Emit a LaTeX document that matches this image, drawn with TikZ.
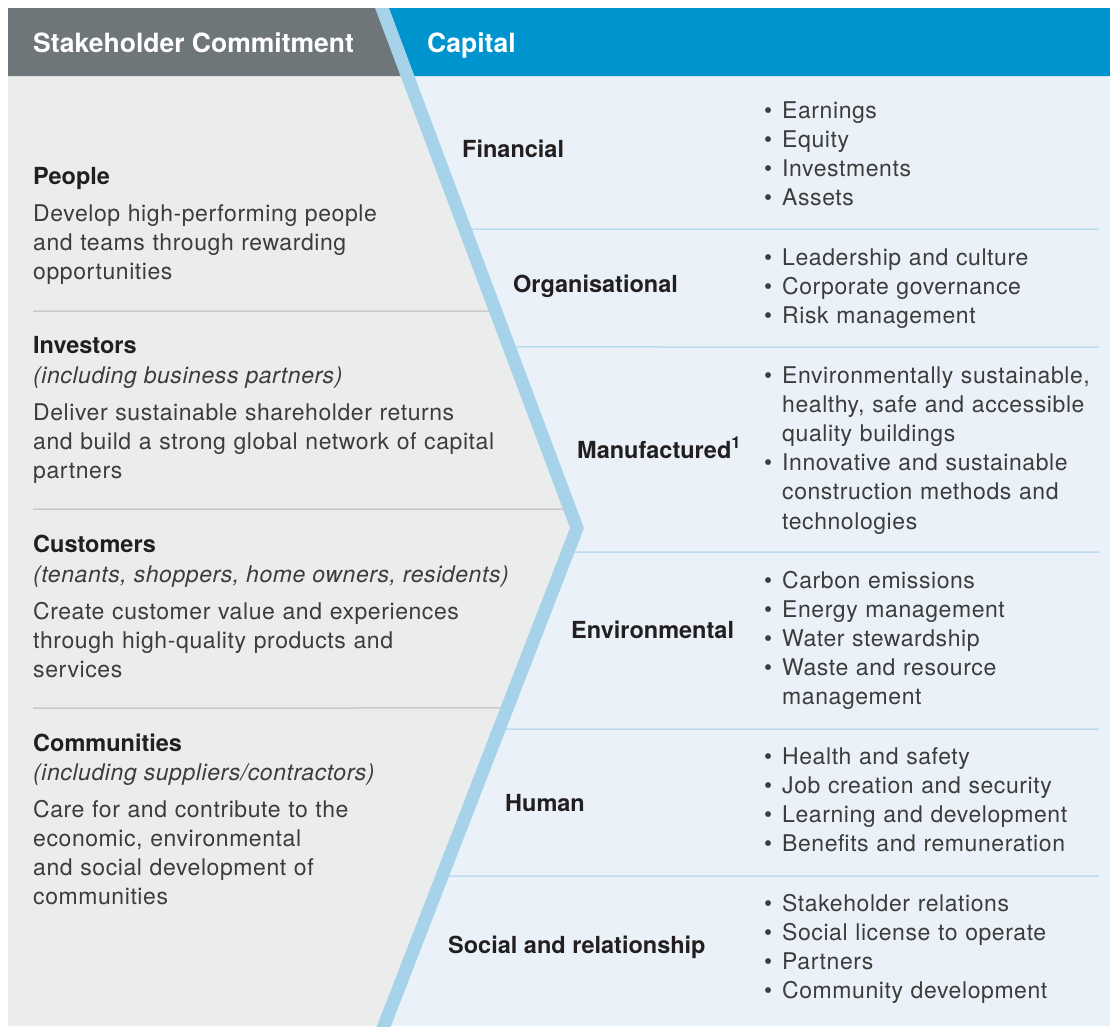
\documentclass[tikz,border=0pt]{standalone}
\usepackage{fontspec}
\setmainfont{TeX Gyre Heros}
\newfontfamily\lightfont{TeX Gyre Heros}[LetterSpace=2.5]
\usepackage{tikz}
\usetikzlibrary{positioning,calc}
\definecolor{hdrgray}{HTML}{6E7679}
\definecolor{hdrblue}{HTML}{0094CE}
\definecolor{stripeblue}{HTML}{A6D2EA}
\definecolor{leftbg}{HTML}{EBECEC}
\definecolor{rightbg}{HTML}{EAF1F8}
\definecolor{sepgray}{HTML}{C9CACA}
\definecolor{sepblue}{HTML}{BEDCEF}
\definecolor{ink}{HTML}{231F20}
\definecolor{softink}{HTML}{3C3C3C}
\newcommand{\bitem}{\makebox[18pt][l]{\textbullet}}
\newcommand{\bcont}{\hspace*{18pt}}

\begin{document}
\begin{tikzpicture}[
    x=1pt, y=-1pt,
    head/.style={font=\bfseries\fontsize{26.5}{30}\selectfont, text=white, anchor=base west, inner sep=0},
    title/.style={font=\bfseries\fontsize{23.5}{29}\selectfont, text=ink, anchor=base west, inner sep=0},
    sub/.style={font=\lightfont\itshape\fontsize{23}{29}\selectfont, text=softink, anchor=base west, inner sep=0},
    body/.style={font=\lightfont\fontsize{23}{29}\selectfont, text=softink, anchor=base west,
                 inner sep=0, text width=500pt, align=left},
    items/.style={body, text width=330pt, font=\lightfont\fontsize{23}{29.2}\selectfont},
    sepL/.style={draw=sepgray, line width=1.5pt},
    sepR/.style={draw=sepblue, line width=1.5pt},
    stripe/.style={draw=stripeblue, line width=13pt, line join=miter}]

    \useasboundingbox (0,0) rectangle (1110,1026);

    % chevron line
    \coordinate (top) at (382,8);
    \coordinate (tip) at (577,528);
    \coordinate (bot) at (384,1026);
    \coordinate (hdr) at ($(top)!0.1308!(tip)$);

    % panels
    \fill[leftbg] (8,76) -- (hdr) -- (tip) -- (bot) -- (8,1026) -- cycle;
    \fill[rightbg] (hdr) -- (1110,76) -- (1110,1026) -- (bot) -- (tip) -- cycle;
    \fill[hdrgray] (8,8) -- (top) -- (hdr) -- (8,76) -- cycle;
    \fill[hdrblue] (top) -- (1110,8) -- (1110,76) -- (hdr) -- cycle;

    % separators
    \draw[sepL] (33,311) -- ($(top)!0.5827!(tip)$);
    \draw[sepL] (33,509) -- ($(top)!0.9635!(tip)$);
    \draw[sepL] (33,708) -- ($(tip)!0.3614!(bot)$);
    \draw[sepR] ($(top)!0.425!(tip)$) -- (1099,229);
    \draw[sepR] ($(top)!0.6519!(tip)$) -- (1099,347);
    \draw[sepR] ($(tip)!0.0482!(bot)$) -- (1099,552);
    \draw[sepR] ($(tip)!0.4036!(bot)$) -- (1099,729);
    \draw[sepR] ($(tip)!0.6988!(bot)$) -- (1099,876);

    \begin{scope}
        \clip (8,8) rectangle (1110,1026);
        \draw[stripe] ($(top)!-0.05!(tip)$) -- (tip) -- ($(bot)!-0.05!(tip)$);
    \end{scope}

    % headers
    \node[head] (hdrL) at (33,52) {Stakeholder Commitment};
    \node[head] (hdrR) at (427,52) {Capital};

    % stakeholders
    \node[title] (people) at (33,184) {People};
    \node[body] (peopleTxt) at (33,221) {Develop high-performing people\\and teams through rewarding\\opportunities};

    \node[title] (investors) at (33,353) {Investors};
    \node[sub] (investorsSub) at (33,383) {(including business partners)};
    \node[body] (investorsTxt) at (33,420) {Deliver sustainable shareholder returns\\and build a strong global network of capital\\partners};

    \node[title] (customers) at (33,552) {Customers};
    \node[sub] (customersSub) at (33,582) {(tenants, shoppers, home owners, residents)};
    \node[body] (customersTxt) at (33,619) {Create customer value and experiences\\through high-quality products and\\services};

    \node[title] (communities) at (33,751) {Communities};
    \node[sub] (communitiesSub) at (33,780) {(including suppliers/contractors)};
    \node[body] (communitiesTxt) at (33,817) {Care for and contribute to the\\economic, environmental\\and social development of\\communities};

    % capitals
    \node[title] (fin) at (462,157) {Financial};
    \node[items] (finList) at (764,118) {\bitem Earnings\\\bitem Equity\\\bitem Investments\\\bitem Assets};

    \node[title] (org) at (513,292) {Organisational};
    \node[items] (orgList) at (764,265) {\bitem Leadership and culture\\\bitem Corporate governance\\\bitem Risk management};

    \node[title] (man) at (577,458) {Manufactured\textsuperscript{1}};
    \node[items] (manList) at (764,383) {\bitem Environmentally sustainable,\\\bcont healthy, safe and accessible\\\bcont quality buildings\\\bitem Innovative and sustainable\\\bcont construction methods and\\\bcont technologies};

    \node[title] (env) at (571,638) {Environmental};
    \node[items] (envList) at (764,588) {\bitem Carbon emissions\\\bitem Energy management\\\bitem Water stewardship\\\bitem Waste and resource\\\bcont management};

    \node[title] (hum) at (505,811) {Human};
    \node[items] (humList) at (764,764) {\bitem Health and safety\\\bitem Job creation and security\\\bitem Learning and development\\\bitem Benefits and remuneration};

    \node[title] (soc) at (448,953) {Social and relationship};
    \node[items] (socList) at (764,911) {\bitem Stakeholder relations\\\bitem Social license to operate\\\bitem Partners\\\bitem Community development};

\end{tikzpicture}
\end{document}
